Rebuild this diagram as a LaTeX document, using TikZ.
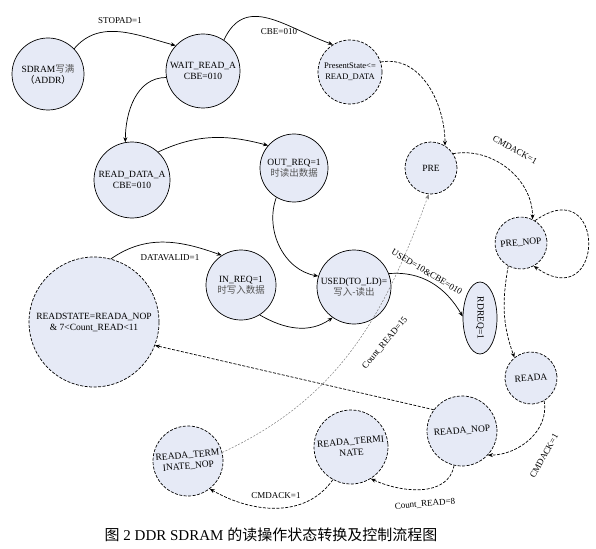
\documentclass[tikz,border=0pt]{standalone}
\usepackage{fontspec}
\setmainfont{Liberation Serif}
\newfontfamily\cjk{Noto Sans CJK SC}
\usepackage{xcolor}
\usepackage{tikz}
\usetikzlibrary{arrows.meta,shapes.geometric}
\definecolor{stfill}{RGB}{230,234,246}
\definecolor{cjkgray}{RGB}{85,85,85}

\begin{document}
\begin{tikzpicture}[x=1pt, y=1pt, >={Stealth[length=5pt,width=4pt]},
  st/.style={circle, draw, fill=stfill, inner sep=0pt, align=center, line width=0.7pt, font=\fontsize{9.5}{11}\selectfont},
  dst/.style={st, dash pattern=on 3pt off 1.5pt},
  lbl/.style={inner sep=1pt, font=\fontsize{9}{10}\selectfont},
  tr/.style={->, line width=0.7pt},
  dtr/.style={tr, dash pattern=on 3pt off 1.5pt}]
  \useasboundingbox (0,0) rectangle (596,-548);
  \node[st, minimum size=72pt]  (sdram)    at (48,-74)   {SDRAM{\cjk\color{cjkgray}写满}\\{\cjk（}ADDR{\cjk）}};
  \node[st, minimum size=74pt]  (wait)     at (203,-71)  {WAIT\_READ\_A\\CBE=010};
  \node[dst, minimum size=64pt, font=\fontsize{8.5}{11}\selectfont] (present) at (350,-72) {PresentState<=\\READ\_DATA};
  \node[dst, minimum size=52pt] (pre)      at (431,-168) {PRE};
  \node[dst, minimum size=52pt, rotate=5] (prenop) at (521,-243) {PRE\_NOP};
  \node[dst, minimum size=52pt, rotate=4] (reada)  at (531,-378) {READA};
  \node[dst, minimum size=70pt, rotate=5] (readanop) at (462,-431) {READA\_NOP};
  \node[dst, minimum size=74pt, rotate=5] (term)     at (351,-447) {READA\_TERMI\\NATE};
  \node[dst, minimum size=70pt, rotate=5] (termnop)  at (188,-461) {READA\_TERM\\INATE\_NOP};
  \node[dst, minimum size=130pt] (rstate)  at (94,-322)  {READSTATE=READA\_NOP\\\& 7<Count\_READ<11};
  \node[st, minimum size=70pt]  (inreq)    at (241,-285) {IN\_REQ=1\\{\cjk\color{cjkgray}时写入数据}};
  \node[st, minimum size=74pt]  (used)     at (354,-287) {USED(TO\_LD)=\\{\cjk\color{cjkgray}写入-读出}};
  \node[ellipse, draw, fill=stfill, inner sep=0pt, line width=0.7pt, rotate=-90,
        minimum width=72pt, minimum height=34pt, font=\fontsize{9.5}{11}\selectfont] (rdreq) at (480,-318) {RDREQ=1};
  \node[st, minimum size=76pt]  (rda)      at (132,-180) {READ\_DATA\_A\\CBE=010};
  \node[st, minimum size=68pt]  (outreq)   at (294,-168) {OUT\_REQ=1\\{\cjk\color{cjkgray}时读出数据}};

  \draw[tr] (sdram.44) to[out=50,in=165] (wait.137);
  \draw[tr] (wait.56) to[out=65,in=160,looseness=1.2] (present.122);
  \draw[dtr] (present.18) to[out=10,in=90] (pre.58);
  \draw[tr] (wait.190) to[out=180,in=90] (rda.100);
  \draw[tr] (rda.47) to[out=25,in=165] (outreq.139);
  \draw[tr] (outreq.239) to[out=-110,in=170] (used.163);
  \draw[tr] (rstate.75) to[out=35,in=160] (inreq.123);
  \draw[tr] (inreq.-58) to[out=-30,in=215] (used.235);
  \draw[tr] (used.21) to[out=5,in=120] (rdreq.265);
  \draw[->, gray, line width=0.5pt, dash pattern=on 2pt off 1.5pt] (termnop.9) to[out=25,in=-110] (pre.265);
  \draw[dtr] (pre.33) to[out=10,in=90] (prenop.59);
  \draw[dtr] (prenop.53) to[out=35,in=-35,distance=88pt] (prenop.-66);
  \draw[dtr] (prenop.236) to[out=-100,in=110] (reada.125);
  \draw[dtr] (reada.-64) to[out=-80,in=0] (readanop.-48);
  \draw[dtr] (readanop.252) to[out=-100,in=-25] (term.-63);
  \draw[dtr] (term.236) to[out=-125,in=-30] (termnop.-57);
  \draw[dtr] (readanop.138) -- (rstate.-21);

  \node[lbl] (lstopad)  at (120,-21)  {STOPAD=1};
  \node[lbl] (lcbe)     at (279,-32)  {CBE=010};
  \node[lbl] (ldataval) at (170,-258) {DATAVALID=1};
  \node[lbl, rotate=-31] (lused)  at (427,-272) {USED=10\&CBE=010};
  \node[lbl, rotate=50]  (lcnt15) at (385,-343) {Count\_READ=15};
  \node[lbl, rotate=-29] (lcmd1)  at (515,-150) {CMDACK=1};
  \node[lbl, rotate=61]  (lcmd2)  at (544,-456) {CMDACK=1};
  \node[lbl, rotate=5]   (lcnt8)  at (425,-504) {Count\_READ=8};
  \node[lbl]             (lcmd3)  at (276,-496) {CMDACK=1};
  \node[font=\fontsize{15}{17}\selectfont] (caption) at (271,-535) {{\cjk 图} 2 DDR SDRAM {\cjk 的读操作状态转换及控制流程图}};
\end{tikzpicture}
\end{document}
